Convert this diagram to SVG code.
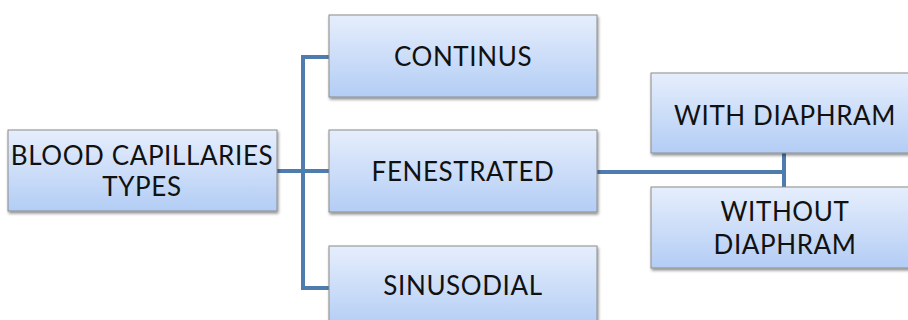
<svg xmlns="http://www.w3.org/2000/svg" width="908" height="320" viewBox="0 0 908 320">
<defs>
<linearGradient id="g" x1="0" y1="0" x2="0" y2="1">
<stop offset="0" stop-color="#e6eefc"/>
<stop offset="1" stop-color="#b3cdf5"/>
</linearGradient>
<filter id="sh" x="-10%" y="-10%" width="120%" height="130%">
<feGaussianBlur in="SourceAlpha" stdDeviation="1.5"/>
<feOffset dx="1" dy="2" result="b"/>
<feComponentTransfer><feFuncA type="linear" slope="0.45"/></feComponentTransfer>
<feMerge><feMergeNode/><feMergeNode in="SourceGraphic"/></feMerge>
</filter>
</defs>
<style>
.box{fill:url(#g);stroke:#8c8c8c;stroke-width:1;filter:url(#sh)}
.t{font-family:Lato,"Open Sans","Liberation Sans",sans-serif;font-size:26px;letter-spacing:0.6px;fill:#111;text-anchor:middle}
.c{fill:none;stroke:#4e7cae;stroke-width:4;stroke-linejoin:miter}
</style>
<g id="connectors">
<path class="c" d="M277 171 H329"/>
<path class="c" d="M329 57 H303 V288 H329"/>
<path class="c" d="M597 172 H784"/>
<path class="c" d="M784 153 V187"/>
</g>
<g id="root">
<rect class="box" x="8" y="130" width="269" height="81"/>
<text class="t" x="142" y="165">BLOOD CAPILLARIES</text>
<text class="t" x="142" y="196">TYPES</text>
</g>
<g id="continus">
<rect class="box" x="329" y="15" width="268" height="82"/>
<text class="t" x="463" y="66">CONTINUS</text>
</g>
<g id="fenestrated">
<rect class="box" x="329" y="130" width="268" height="82"/>
<text class="t" x="463" y="181">FENESTRATED</text>
</g>
<g id="sinusodial">
<rect class="box" x="329" y="246" width="268" height="82"/>
<text class="t" x="463" y="295">SINUSODIAL</text>
</g>
<g id="with">
<rect class="box" x="651" y="73" width="268" height="80"/>
<text class="t" x="785" y="125">WITH DIAPHRAM</text>
</g>
<g id="without">
<rect class="box" x="651" y="187" width="268" height="81"/>
<text class="t" x="785" y="221">WITHOUT</text>
<text class="t" x="785" y="254">DIAPHRAM</text>
</g>
</svg>
